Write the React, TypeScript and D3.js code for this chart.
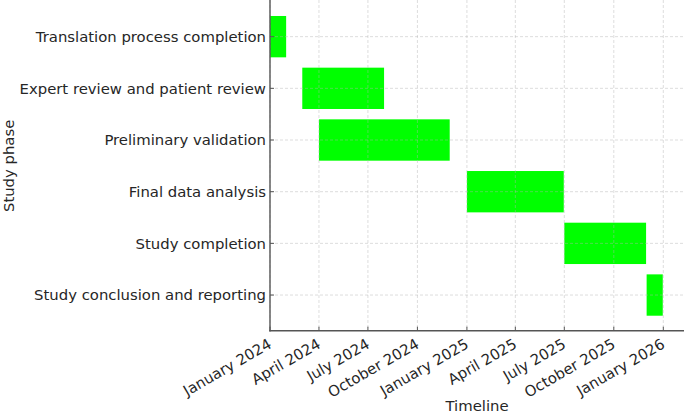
import React from "react";
import * as d3 from "d3";

// Study phases, top to bottom
const phases = [
  "Translation process completion",
  "Expert review and patient review",
  "Preliminary validation",
  "Final data analysis",
  "Study completion",
  "Study conclusion and reporting",
];
const startDates = ["2024-01-01", "2024-03-01", "2024-04-01", "2025-01-01", "2025-07-01", "2025-12-01"];
const endDates = ["2024-01-31", "2024-07-31", "2024-11-30", "2025-06-30", "2025-11-30", "2025-12-31"];
const tickDates = [
  "2024-01-01", "2024-04-01", "2024-07-01", "2024-10-01",
  "2025-01-01", "2025-04-01", "2025-07-01", "2025-10-01", "2026-01-01",
];

const W = 684;
const H = 415;
const left = 270;
const top = 1;
const bottom = 330.7;
const fs = 14.85;
const font = "DejaVu Sans, sans-serif";
const parse = d3.utcParse("%Y-%m-%d");
const fmt = d3.utcFormat("%B %Y");

const App = () => {
  const x = d3
    .scaleUtc()
    .domain([parse("2024-01-01")!, parse("2026-01-01")!])
    .range([left, 663.3]);
  // barh layout: rows at integer positions, bar height 0.8, small margins
  const y = d3.scaleLinear().domain([-0.69, phases.length - 1 + 0.69]).range([top, bottom]);
  const barH = y(0.4) - y(-0.4);
  const ticks = tickDates.map((d) => parse(d)!);

  return (
    <div style={{ position: "absolute", left: 0, top: 0 }}>
      <svg width={W} height={H} style={{ display: "block", background: "#fff" }} fontFamily={font}>
        {/* bars */}
        {phases.map((p, i) => {
          const x0 = x(parse(startDates[i])!);
          const x1 = x(parse(endDates[i])!);
          return (
            <rect key={p} x={x0} y={y(i) - barH / 2} width={x1 - x0} height={barH} fill="#00ff00" />
          );
        })}

        {/* grid */}
        <g stroke="#b0b0b0" strokeOpacity={0.55} strokeWidth={0.8} strokeDasharray="3,2">
          {ticks.map((t, i) => (
            <line key={i} x1={x(t)} x2={x(t)} y1={0} y2={bottom} />
          ))}
          {phases.map((p, i) => (
            <line key={p} x1={left} x2={W} y1={y(i)} y2={y(i)} />
          ))}
        </g>

        {/* spines */}
        <line x1={left} x2={left} y1={0} y2={bottom + 0.7} stroke="#555" strokeWidth={1.4} />
        <line x1={left - 0.7} x2={W} y1={bottom} y2={bottom} stroke="#555" strokeWidth={1.4} />

        {/* y axis, ticks pointing inward */}
        {phases.map((p, i) => (
          <g key={p} transform={`translate(${left},${y(i)})`}>
            <line x1={0} x2={4} stroke="#555" strokeWidth={1} />
            <text x={-4} dy="0.35em" textAnchor="end" fontSize={fs} fill="#262626">
              {p}
            </text>
          </g>
        ))}

        {/* x axis */}
        {ticks.map((t, i) => (
          <g key={i} transform={`translate(${x(t)},${bottom})`}>
            <line y1={0} y2={-4} stroke="#555" strokeWidth={1} />
            <text
              transform="translate(-3,6.5) rotate(-30)"
              dy="0.76em"
              textAnchor="end"
              fontSize={fs}
              fill="#262626"
            >
              {fmt(t)}
            </text>
          </g>
        ))}

        <text x={477} y={411} textAnchor="middle" fontSize={fs} fill="#262626">
          Timeline
        </text>
        <text
          transform={`translate(13.5,${(top + bottom) / 2}) rotate(-90)`}
          textAnchor="middle"
          fontSize={fs}
          fill="#262626"
        >
          Study phase
        </text>
      </svg>
    </div>
  );
};

export default App;
